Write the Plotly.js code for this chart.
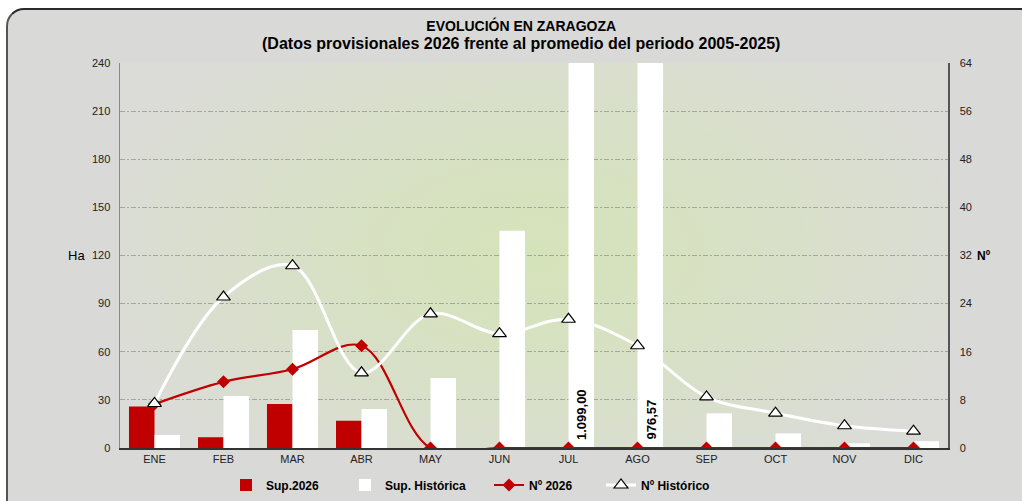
<!DOCTYPE html>
<html>
<head>
<meta charset="utf-8">
<script src="https://cdn.plot.ly/plotly-3.0.1.min.js"></script>
<style>
  html, body { margin:0; padding:0; background:#ffffff; }
  #wrap { position:relative; width:1022px; height:501px; overflow:hidden; }
  #bg { position:absolute; left:6px; top:8px; width:1040px; height:520px; background:#d9d9d8;
        border-top:2px solid #2a2a2a; border-left:2px solid #555; border-top-left-radius:18px; box-sizing:border-box; }
  #chart { position:absolute; left:0; top:0; width:1022px; height:501px; }
</style>
</head>
<body>
<div id="wrap"><div id="bg"></div><div id="chart"></div></div>
<script>
const months = ['ENE','FEB','MAR','ABR','MAY','JUN','JUL','AGO','SEP','OCT','NOV','DIC'];
const sup2026 = [25.8, 6.7, 27.4, 17.0, 0, 0, 0, 0, 0, 0, 0, 0];
const supHist = [8.1, 32.4, 73.6, 24.3, 43.6, 135.5, 1099.00, 976.57, 21.6, 9.1, 2.9, 4.2];
const n2026 = [7.3, 11.0, 13.1, 17.0, 0, 0, 0, 0, 0, 0, 0, 0];
const nHist = [7.4, 25.1, 30.3, 12.5, 22.3, 19.0, 21.4, 17.0, 8.5, 5.8, 3.7, 2.8];
const bigLabels = [{m:'JUL', t:'1.099,00'}, {m:'AGO', t:'976,57'}];

const FONT = 'Liberation Sans, Arial, sans-serif';
const RED = '#c00000';

const svgBg = '<svg xmlns="http://www.w3.org/2000/svg" width="828" height="385" preserveAspectRatio="none">' +
  '<defs><radialGradient id="g" cx="0.5" cy="0.5" r="0.55" gradientTransform="translate(0.5 0.5) scale(1 1.25) translate(-0.5 -0.5)">' +
  '<stop offset="0" stop-color="#d5e3b9"/><stop offset="0.4" stop-color="#d7e1c3"/><stop offset="1" stop-color="#dbdcd7"/></radialGradient></defs>' +
  '<rect width="828" height="385" fill="url(#g)"/></svg>';
const bgUri = 'data:image/svg+xml;charset=utf-8,' + encodeURIComponent(svgBg);

const traces = [
  {type:'bar', name:'Sup.2026', x:months, y:sup2026, marker:{color:RED}, legend:'legend', yaxis:'y'},
  {type:'bar', name:'Sup. Histórica', x:months, y:supHist, marker:{color:'#ffffff'}, legend:'legend2', yaxis:'y'},
  {type:'scatter', mode:'lines+markers', name:'Nº 2026', x:months, y:n2026, yaxis:'y2', legend:'legend3',
   line:{color:RED, width:2.2, shape:'spline', smoothing:1}, marker:{symbol:'diamond', size:10, color:RED}},
  {type:'scatter', mode:'lines+markers', name:'Nº Histórico', x:months, y:nHist, yaxis:'y2', legend:'legend4',
   line:{color:'#ffffff', width:3, shape:'spline', smoothing:1},
   marker:{symbol:'triangle-up', size:12, color:'#ffffff', line:{color:'#000000', width:1.2}}}
];

const legFont = {family:FONT, size:12, color:'#000000', weight:'bold'};
function leg(xpx){
  return {x:xpx/1022, xref:'container', y:(501-485)/501, yref:'container', xanchor:'left', yanchor:'middle',
          orientation:'h', bgcolor:'rgba(0,0,0,0)', font:legFont, itemwidth:30};
}

const annotations = bigLabels.map(l => ({
  x:l.m, y:0, xref:'x', yref:'y', text:'<b>'+l.t+'</b>', showarrow:false,
  textangle:-90, xanchor:'center', yanchor:'bottom', xshift:13, yshift:6,
  font:{family:FONT, size:13, color:'#000000'}
}));
annotations.push({xref:'paper', yref:'paper', x:-0.052, y:0.5, text:'Ha', showarrow:false,
  xanchor:'center', yanchor:'middle', font:{family:FONT, size:13, color:'#000000'}});
annotations.push({xref:'paper', yref:'paper', x:1.043, y:0.5, text:'<b>Nº</b>', showarrow:false,
  xanchor:'center', yanchor:'middle', font:{family:FONT, size:12, color:'#000000'}});

const layout = {
  width:1022, height:501,
  margin:{l:120, r:74, t:63, b:53},
  paper_bgcolor:'rgba(0,0,0,0)', plot_bgcolor:'rgba(0,0,0,0)',
  font:{family:FONT, size:11, color:'#222222'},
  title:{text:'<b>EVOLUCIÓN EN ZARAGOZA</b><br><b><span style="font-size:16px">(Datos provisionales 2026 frente al promedio del periodo 2005-2025)</span></b>',
         x:0.51, xref:'container', xanchor:'center', y:0.939, yref:'container', yanchor:'top',
         font:{family:FONT, size:14, color:'#000000'}},
  barmode:'group', bargap:0.26, bargroupgap:0,
  xaxis:{type:'category', range:[-0.5, 11.5], autorange:false, showgrid:false, showline:true, linecolor:'#333333', linewidth:1.5,
         ticks:'', tickfont:{family:FONT, size:11, color:'#222222'}, fixedrange:true, zeroline:false},
  yaxis:{range:[0,240], dtick:30, tick0:0, showgrid:true, gridcolor:'#a4a4a4', griddash:'5px,2px,2px,2px', gridwidth:1,
         showline:true, linecolor:'#888888', linewidth:1.5, zeroline:false, ticks:'', ticklabelstandoff:6,
         tickfont:{family:FONT, size:11, color:'#222222'}},
  yaxis2:{range:[0,64], dtick:8, tick0:0, overlaying:'y', side:'right', showgrid:false,
          showline:true, linecolor:'#555555', linewidth:1.5, zeroline:false, ticks:'', ticklabelstandoff:8,
          tickfont:{family:FONT, size:11, color:'#222222'}},
  legend:leg(226), legend2:leg(345), legend3:leg(489), legend4:leg(601),
  annotations:annotations,
  images:[{source:bgUri, xref:'paper', yref:'paper', x:0, y:1, sizex:1, sizey:1,
           sizing:'stretch', layer:'below', xanchor:'left', yanchor:'top'}],
  showlegend:true
};

Plotly.newPlot('chart', traces, layout, {displayModeBar:false, staticPlot:true});
</script>
</body>
</html>
